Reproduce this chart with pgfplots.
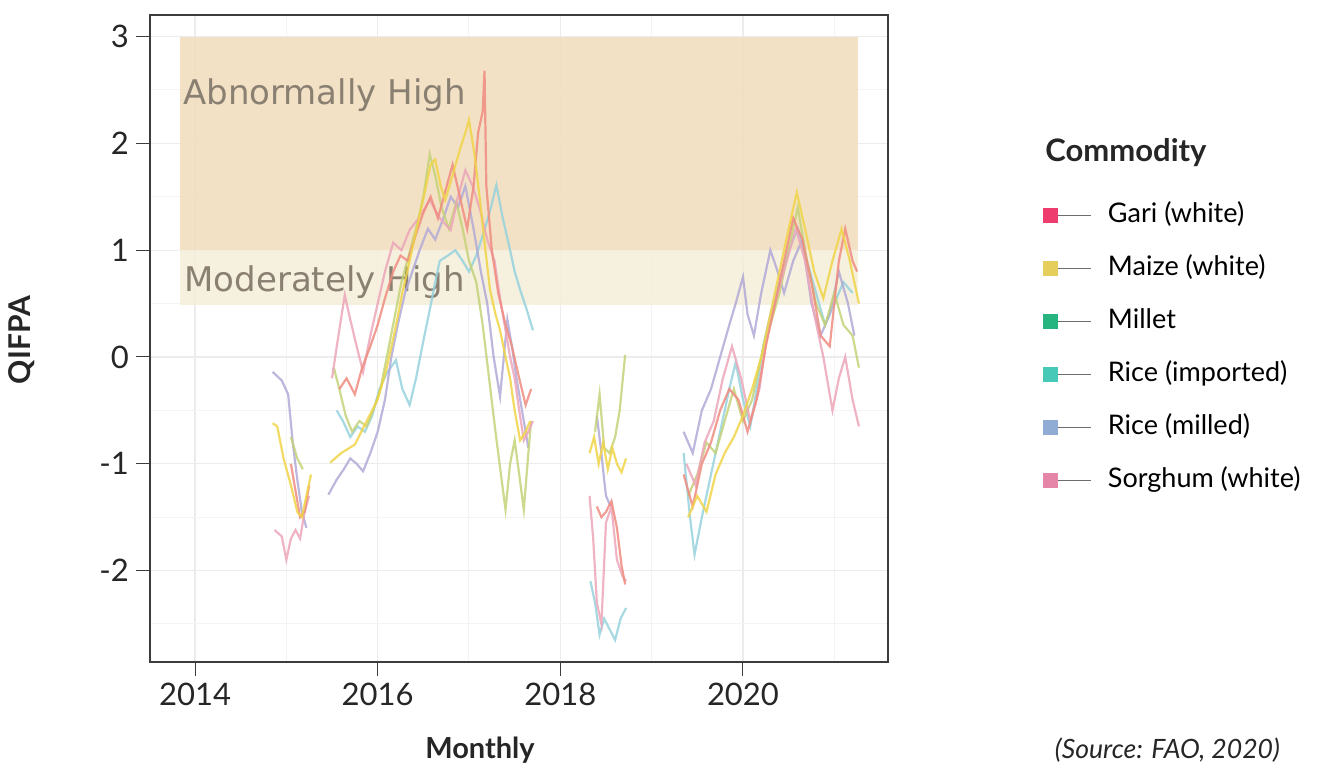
\documentclass[border=0pt]{standalone}
\usepackage{fontspec}
\setmainfont{Lato}
\newfontfamily\regionfont{DejaVu Sans}
\usepackage{pgfplots}
\pgfplotsset{compat=1.18}

\definecolor{garisq}{RGB}{236,26,85}
\definecolor{maizesq}{RGB}{224,198,62}
\definecolor{milletsq}{RGB}{0,168,106}
\definecolor{riceimpsq}{RGB}{38,191,170}
\definecolor{ricemilsq}{RGB}{126,158,204}
\definecolor{sorghsq}{RGB}{224,112,153}
\definecolor{garil}{RGB}{240,140,128}
\definecolor{maizel}{RGB}{240,212,72}
\definecolor{milletl}{RGB}{196,210,120}
\definecolor{riceimpl}{RGB}{150,210,220}
\definecolor{ricemill}{RGB}{178,170,215}
\definecolor{sorghl}{RGB}{236,166,186}
\definecolor{abncol}{RGB}{242,222,192}
\definecolor{modcol}{RGB}{245,238,220}
\definecolor{regtext}{RGB}{138,128,114}
\definecolor{gridmaj}{RGB}{236,236,236}
\definecolor{gridmin}{RGB}{244,244,244}
\definecolor{axcol}{RGB}{60,60,60}
\definecolor{legline}{RGB}{85,85,85}

\begin{document}
\begin{tikzpicture}[x=0.5pt,y=0.5pt]
\useasboundingbox (0,0) rectangle (1334,768);
\begin{axis}[
  at={(75pt,53pt)}, anchor=south west,
  scale only axis, width=369pt, height=323.5pt,
  xmin=2013.507, xmax=2021.588, ymin=-2.856, ymax=3.202,
  xtick={2014,2016,2018,2020}, xticklabels={2014,2016,2018,2020},
  ytick={-2,-1,0,1,2,3}, yticklabels={-2,-1,0,1,2,3},
  minor xtick={2015,2017,2019,2021},
  minor ytick={-2.5,-1.5,-0.5,0.5,1.5,2.5},
  grid=both,
  major grid style={draw=gridmaj, line width=0.6pt},
  minor grid style={draw=gridmin, line width=0.5pt},
  tick align=outside, xtick pos=bottom, ytick pos=left,
  major tick length=7pt, minor tick length=0pt,
  axis line style={draw=axcol, line width=0.6pt},
  tick style={draw=axcol, line width=0.5pt},
  ticklabel style={font=\fontsize{15.5}{17}\selectfont, text=black!85},
  unbounded coords=jump,
  every axis plot/.append style={line width=1.1pt, opacity=0.85, mark=none},
  legend cell align=left,
  legend style={at={(1.21,0.711)}, anchor=north west, draw=none, fill=none,
    inner sep=0pt, row sep=13.5pt, column sep=8pt,
    nodes={font=\fontsize{13.5}{16}\selectfont, text height=10pt, text depth=3pt, inner sep=0pt}},
  legend image code/.code={
    \path[#1, draw=none] (0pt,-3.75pt) rectangle (7.5pt,3.75pt);
    \draw[legline, line width=0.6pt] (7.5pt,0pt) -- (24pt,0pt);
  },
]
\fill[abncol, fill opacity=0.9] (axis cs:2013.836,1) rectangle (axis cs:2021.259,3);
\fill[modcol, fill opacity=0.9] (axis cs:2013.836,0.487) rectangle (axis cs:2021.259,1);
\node[anchor=west, inner sep=0pt, text=regtext, font=\regionfont\fontsize{17}{19}\selectfont] at (axis cs:2013.866,2.45) {Abnormally High};
\node[anchor=west, inner sep=0pt, text=regtext, font=\regionfont\fontsize{17}{19}\selectfont] at (axis cs:2013.88,0.70) {Moderately High};

\addlegendimage{fill=garisq}
\addlegendentry{Gari (white)}
\addlegendimage{fill=maizesq}
\addlegendentry{Maize (white)}
\addlegendimage{fill=milletsq}
\addlegendentry{Millet}
\addlegendimage{fill=riceimpsq}
\addlegendentry{Rice (imported)}
\addlegendimage{fill=ricemilsq}
\addlegendentry{Rice (milled)}
\addlegendimage{fill=sorghsq}
\addlegendentry{Sorghum (white)}

% Rice (imported)
\addplot[riceimpl, forget plot] coordinates {
(2015.55,-0.5)(2015.62,-0.6)(2015.7,-0.75)(2015.78,-0.65)(2015.86,-0.7)(2015.94,-0.55)
(2016.02,-0.3)(2016.1,-0.15)(2016.2,-0.03)(2016.27,-0.3)(2016.35,-0.45)(2016.42,-0.2)
(2016.5,0.15)(2016.57,0.44)(2016.63,0.7)(2016.68,0.9)(2016.77,0.95)(2016.85,1.0)
(2016.93,0.9)(2017.0,0.8)(2017.08,0.95)(2017.17,1.19)(2017.24,1.4)(2017.3,1.61)
(2017.37,1.3)(2017.45,1.0)(2017.5,0.8)(2017.56,0.63)(2017.63,0.45)(2017.7,0.25)
(2018.0,nan)
(2018.33,-2.1)(2018.38,-2.3)(2018.43,-2.6)(2018.48,-2.45)(2018.54,-2.55)(2018.6,-2.65)
(2018.66,-2.45)(2018.72,-2.35)
(2019.0,nan)
(2019.35,-0.9)(2019.42,-1.5)(2019.47,-1.85)(2019.55,-1.5)(2019.65,-1.1)(2019.75,-0.7)
(2019.85,-0.3)(2019.92,-0.05)(2020.0,-0.4)(2020.08,-0.65)(2020.15,-0.3)(2020.22,0.1)
(2020.3,0.4)(2020.4,0.7)(2020.5,1.0)(2020.6,1.2)(2020.7,0.9)(2020.8,0.6)(2020.9,0.3)
(2021.0,0.5)(2021.1,0.7)(2021.2,0.6)
};
% Rice (milled)
\addplot[ricemill, forget plot] coordinates {
(2014.85,-0.14)(2014.95,-0.22)(2015.02,-0.35)(2015.07,-0.8)(2015.12,-1.15)(2015.17,-1.45)(2015.22,-1.6)
(2015.35,nan)
(2015.46,-1.29)(2015.55,-1.15)(2015.63,-1.05)(2015.7,-0.95)(2015.77,-1.0)(2015.84,-1.07)
(2015.92,-0.9)(2016.0,-0.7)(2016.08,-0.4)(2016.15,0.0)(2016.22,0.3)(2016.3,0.6)
(2016.38,0.8)(2016.46,1.0)(2016.55,1.2)(2016.63,1.1)(2016.72,1.3)(2016.8,1.5)
(2016.88,1.4)(2016.96,1.6)(2017.05,1.2)(2017.13,0.8)(2017.2,0.5)(2017.27,0.0)
(2017.34,-0.37)(2017.42,0.35)(2017.47,0.1)(2017.52,-0.2)(2017.58,-0.5)(2017.65,-0.85)
(2018.0,nan)
(2018.4,-0.55)(2018.45,-0.9)(2018.48,-1.15)(2018.5,-1.3)(2018.55,-1.4)
(2019.0,nan)
(2019.35,-0.7)(2019.45,-0.9)(2019.55,-0.5)(2019.65,-0.3)(2019.75,0.0)(2019.85,0.3)
(2019.92,0.5)(2020.0,0.75)(2020.05,0.4)(2020.12,0.2)(2020.2,0.6)(2020.3,1.0)
(2020.38,0.8)(2020.45,0.6)(2020.55,0.9)(2020.65,1.1)(2020.75,0.5)(2020.85,0.2)
(2020.95,0.4)(2021.05,0.8)(2021.15,0.5)(2021.22,0.2)
};
% Millet
\addplot[milletl, forget plot] coordinates {
(2015.05,-0.75)(2015.12,-0.95)(2015.18,-1.05)
(2015.35,nan)
(2015.52,-0.1)(2015.58,-0.3)(2015.65,-0.55)(2015.72,-0.7)(2015.8,-0.6)(2015.88,-0.65)
(2015.95,-0.5)(2016.03,-0.3)(2016.1,0.0)(2016.18,0.35)(2016.26,0.7)(2016.34,0.95)
(2016.42,1.2)(2016.5,1.5)(2016.57,1.9)(2016.63,1.7)(2016.7,1.4)(2016.78,1.2)
(2016.86,1.45)(2016.93,1.2)(2017.0,0.9)(2017.08,0.7)(2017.15,0.3)(2017.22,-0.2)
(2017.29,-0.7)(2017.35,-1.1)(2017.4,-1.43)(2017.45,-1.0)(2017.5,-0.78)(2017.55,-1.1)
(2017.6,-1.43)(2017.65,-0.9)(2017.68,-0.6)
(2018.0,nan)
(2018.38,-0.7)(2018.43,-0.35)(2018.48,-0.85)(2018.54,-0.9)(2018.6,-0.75)(2018.65,-0.5)(2018.71,0.02)
(2019.0,nan)
(2019.4,-1.3)(2019.5,-1.1)(2019.6,-0.8)(2019.7,-0.9)(2019.8,-0.6)(2019.9,-0.3)
(2020.0,-0.6)(2020.1,-0.4)(2020.2,0.0)(2020.3,0.3)(2020.4,0.6)(2020.5,1.0)
(2020.6,1.4)(2020.7,0.9)(2020.8,0.5)(2020.9,0.3)(2021.0,0.6)(2021.1,0.3)
(2021.2,0.2)(2021.27,-0.1)
};
% Sorghum (white)
\addplot[sorghl, forget plot] coordinates {
(2014.87,-1.62)(2014.95,-1.68)(2015.0,-1.9)(2015.05,-1.7)(2015.1,-1.62)(2015.15,-1.7)(2015.2,-1.45)(2015.25,-1.3)
(2015.35,nan)
(2015.5,-0.2)(2015.57,0.2)(2015.64,0.58)(2015.7,0.35)(2015.77,0.1)(2015.84,-0.14)
(2015.92,0.2)(2016.0,0.5)(2016.08,0.8)(2016.17,1.07)(2016.26,1.0)(2016.35,1.19)
(2016.45,1.3)(2016.57,1.47)(2016.68,1.3)(2016.8,1.19)(2016.88,1.5)(2016.96,1.75)
(2017.04,1.6)(2017.12,1.38)(2017.2,1.1)(2017.28,0.9)(2017.34,0.55)(2017.4,0.25)
(2017.45,0.0)(2017.5,-0.2)(2017.55,-0.5)(2017.6,-0.78)(2017.65,-0.7)(2017.7,-0.6)
(2018.0,nan)
(2018.32,-1.3)(2018.36,-1.7)(2018.4,-2.3)(2018.45,-2.5)(2018.5,-1.55)(2018.56,-1.4)
(2018.62,-1.9)(2018.68,-2.05)(2018.72,-2.1)
(2019.0,nan)
(2019.38,-1.0)(2019.48,-1.2)(2019.58,-0.8)(2019.68,-0.6)(2019.78,-0.2)(2019.88,0.1)
(2019.98,-0.2)(2020.08,-0.6)(2020.18,-0.3)(2020.28,0.3)(2020.38,0.6)(2020.48,0.9)
(2020.58,1.2)(2020.68,0.9)(2020.78,0.4)(2020.88,0.0)(2020.98,-0.5)(2021.05,-0.2)
(2021.12,0.0)(2021.2,-0.4)(2021.27,-0.65)
};
% Gari (white)
\addplot[garil, forget plot] coordinates {
(2015.05,-1.0)(2015.1,-1.25)(2015.15,-1.5)(2015.2,-1.45)(2015.25,-1.2)
(2015.35,nan)
(2015.58,-0.3)(2015.66,-0.2)(2015.75,-0.35)(2015.83,-0.1)(2015.92,0.1)(2016.0,0.3)
(2016.08,0.55)(2016.17,0.8)(2016.25,0.95)(2016.33,0.9)(2016.42,1.15)(2016.5,1.35)
(2016.58,1.5)(2016.66,1.3)(2016.74,1.55)(2016.82,1.8)(2016.9,1.5)(2016.98,1.2)
(2017.05,1.6)(2017.1,2.1)(2017.15,2.3)(2017.17,2.68)(2017.19,1.6)(2017.25,1.0)
(2017.32,0.6)(2017.4,0.3)(2017.47,0.1)(2017.55,-0.2)(2017.62,-0.45)(2017.68,-0.3)
(2018.0,nan)
(2018.4,-1.4)(2018.45,-1.5)(2018.5,-1.45)(2018.56,-1.35)(2018.62,-1.6)(2018.67,-1.95)(2018.71,-2.13)
(2019.0,nan)
(2019.35,-1.1)(2019.45,-1.4)(2019.55,-1.0)(2019.65,-0.8)(2019.75,-0.5)(2019.85,-0.3)
(2019.95,-0.4)(2020.05,-0.7)(2020.15,-0.4)(2020.25,0.1)(2020.35,0.5)(2020.45,0.9)
(2020.55,1.3)(2020.65,1.1)(2020.75,0.7)(2020.85,0.2)(2020.95,0.1)(2021.05,0.9)
(2021.12,1.2)(2021.2,0.9)(2021.25,0.8)
};
% Maize (white)
\addplot[maizel, forget plot] coordinates {
(2014.85,-0.62)(2014.9,-0.65)(2014.97,-0.95)(2015.05,-1.2)(2015.12,-1.45)(2015.17,-1.5)(2015.22,-1.3)(2015.27,-1.1)
(2015.35,nan)
(2015.48,-0.99)(2015.6,-0.9)(2015.75,-0.82)(2015.88,-0.6)(2016.0,-0.4)(2016.1,-0.1)
(2016.19,0.25)(2016.27,0.6)(2016.35,0.9)(2016.44,1.25)(2016.52,1.56)(2016.58,1.8)
(2016.63,1.85)(2016.69,1.6)(2016.74,1.47)(2016.82,1.7)(2016.9,1.94)(2016.96,2.1)
(2017.0,2.22)(2017.06,1.9)(2017.12,1.47)(2017.18,1.0)(2017.23,0.63)(2017.29,0.4)
(2017.34,0.25)(2017.4,0.0)(2017.45,-0.2)(2017.5,-0.5)(2017.56,-0.78)(2017.62,-0.7)(2017.67,-0.6)
(2018.0,nan)
(2018.32,-0.9)(2018.37,-0.75)(2018.42,-1.0)(2018.47,-0.8)(2018.52,-1.05)(2018.57,-0.85)
(2018.62,-1.0)(2018.67,-1.08)(2018.72,-0.95)
(2019.0,nan)
(2019.4,-1.5)(2019.5,-1.3)(2019.6,-1.45)(2019.7,-1.1)(2019.8,-0.9)(2019.9,-0.75)
(2020.0,-0.55)(2020.1,-0.3)(2020.2,0.0)(2020.3,0.4)(2020.4,0.8)(2020.5,1.2)
(2020.59,1.54)(2020.68,1.2)(2020.78,0.8)(2020.88,0.55)(2020.98,0.9)(2021.08,1.2)
(2021.17,0.9)(2021.27,0.5)
};
\end{axis}
\node[anchor=west, inner sep=0pt, font=\bfseries\fontsize{15.5}{18}\selectfont, text=black!85] at (1045,615) {Commodity};
\node[rotate=90, font=\bfseries\fontsize{15}{18}\selectfont, text=black!85] at (22,428) {QIFPA};
\node[font=\bfseries\fontsize{14.5}{17}\selectfont, text=black!85] at (480,18) {Monthly};
\node[anchor=east, font=\itshape\fontsize{13.3}{16}\selectfont, text=black!85] at (1287,18) {(Source: FAO, 2020)};
\end{tikzpicture}
\end{document}
